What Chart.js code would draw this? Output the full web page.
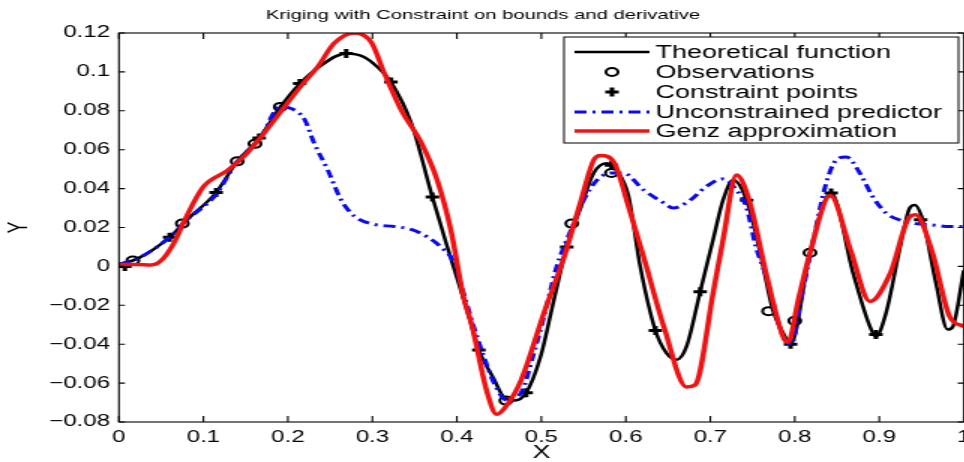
<!DOCTYPE html>
<html>
<head>
<meta charset="utf-8">
<script src="https://cdn.jsdelivr.net/npm/chart.js"></script>
<style>
  html, body { margin: 0; padding: 0; background: #fff; overflow: hidden; }
  /* the reference figure is stretched sideways, so the chart is drawn narrow and widened */
  #wrap { width: 650px; height: 462px; transform: scaleX(1.5); transform-origin: 0 0; }
</style>
</head>
<body>
<div id="wrap"><canvas id="kriging"></canvas></div>
<script>
// Theoretical function
const theoX = [0, 0.022, 0.06, 0.078, 0.115, 0.14, 0.166, 0.191, 0.214, 0.235, 0.269, 0.29, 0.306, 0.322, 0.346, 0.371, 0.388, 0.408, 0.417, 0.426, 0.444, 0.456, 0.468, 0.482, 0.499, 0.515, 0.53, 0.547, 0.562, 0.577, 0.589, 0.603, 0.617, 0.635, 0.648, 0.66, 0.672, 0.688, 0.704, 0.715, 0.727, 0.743, 0.759, 0.774, 0.786, 0.795, 0.818, 0.843, 0.869, 0.889, 0.896, 0.908, 0.924, 0.936, 0.942, 0.952, 0.967, 0.981, 0.987, 1.0];
const theoY = [0.001, 0.004, 0.015, 0.023, 0.038, 0.054, 0.066, 0.082, 0.094, 0.102, 0.1095, 0.1077, 0.1025, 0.0948, 0.0737, 0.0357, 0.011, -0.017, -0.03, -0.043, -0.058, -0.0675, -0.069, -0.065, -0.0465, -0.017, 0.01, 0.0307, 0.048, 0.053, 0.0495, 0.0365, 0.0, -0.033, -0.0445, -0.048, -0.041, -0.013, 0.015, 0.034, 0.0444, 0.034, 0.007, -0.0225, -0.034, -0.04, 0.007, 0.0377, -0.0035, -0.031, -0.0361, -0.024, 0.0085, 0.03, 0.0316, 0.023, -0.0085, -0.0325, -0.031, -0.002];

// Observations (circles)
const obsX = [0.0165, 0.075, 0.14, 0.161, 0.191, 0.458, 0.536, 0.583, 0.769, 0.8, 0.818];
const obsY = [0.003, 0.022, 0.054, 0.063, 0.082, -0.069, 0.022, 0.048, -0.023, -0.028, 0.007];

// Constraint points (plus signs)
const consX = [0.007, 0.06, 0.115, 0.166, 0.214, 0.269, 0.322, 0.371, 0.426, 0.482, 0.53, 0.583, 0.635, 0.688, 0.743, 0.795, 0.843, 0.896, 0.949];
const consY = [0.0, 0.015, 0.038, 0.066, 0.094, 0.1095, 0.0948, 0.0357, -0.043, -0.065, 0.01, 0.052, -0.033, -0.013, 0.034, -0.04, 0.0377, -0.035, 0.024];

// Unconstrained predictor
const uncX = [0, 0.022, 0.06, 0.078, 0.115, 0.14, 0.166, 0.191, 0.205, 0.22, 0.231, 0.247, 0.263, 0.279, 0.302, 0.326, 0.346, 0.365, 0.381, 0.397, 0.408, 0.42, 0.432, 0.444, 0.459, 0.476, 0.491, 0.503, 0.518, 0.535, 0.55, 0.566, 0.582, 0.597, 0.621, 0.645, 0.656, 0.676, 0.695, 0.715, 0.731, 0.743, 0.754, 0.766, 0.786, 0.796, 0.806, 0.822, 0.836, 0.849, 0.861, 0.877, 0.892, 0.908, 0.924, 0.943, 0.963, 0.983, 1.0];
const uncY = [0.001, 0.004, 0.015, 0.023, 0.037, 0.054, 0.065, 0.082, 0.081, 0.0753, 0.0634, 0.0497, 0.0342, 0.0257, 0.0216, 0.0205, 0.019, 0.0152, 0.01, 0.0017, -0.0138, -0.031, -0.0465, -0.06, -0.0687, -0.065, -0.0447, -0.026, -0.0003, 0.0187, 0.034, 0.0444, 0.048, 0.048, 0.0393, 0.0326, 0.03, 0.034, 0.041, 0.045, 0.0393, 0.03, 0.01, -0.005, -0.036, -0.04, -0.02, 0.0136, 0.041, 0.0547, 0.0563, 0.048, 0.036, 0.0274, 0.0239, 0.022, 0.0213, 0.0205, 0.0205];

// Genz approximation
const genzX = [0, 0.02, 0.038, 0.05, 0.065, 0.078, 0.1, 0.129, 0.149, 0.168, 0.196, 0.216, 0.235, 0.255, 0.279, 0.299, 0.314, 0.334, 0.358, 0.377, 0.393, 0.408, 0.417, 0.436, 0.447, 0.458, 0.476, 0.503, 0.527, 0.547, 0.562, 0.57, 0.586, 0.603, 0.621, 0.645, 0.672, 0.682, 0.704, 0.715, 0.731, 0.747, 0.766, 0.786, 0.792, 0.804, 0.818, 0.842, 0.866, 0.889, 0.913, 0.936, 0.943, 0.963, 0.983, 1.0];
const genzY = [0.001, 0.001, 0.0007, 0.003, 0.012, 0.024, 0.041, 0.0495, 0.057, 0.0665, 0.082, 0.093, 0.1025, 0.1148, 0.12, 0.115, 0.0995, 0.0805, 0.0635, 0.044, 0.0185, -0.016, -0.029, -0.065, -0.076, -0.072, -0.0585, -0.024, 0.005, 0.034, 0.0547, 0.057, 0.0535, 0.031, 0.005, -0.031, -0.062, -0.061, -0.012, 0.0135, 0.047, 0.0326, -0.0035, -0.036, -0.039, -0.0175, 0.007, 0.0364, 0.0085, -0.018, -0.0035, 0.0255, 0.0265, 0.007, -0.0255, -0.031];

const seriesNames = ['Theoretical function', 'Observations', 'Constraint points', 'Unconstrained predictor', 'Genz approximation'];

const FONT = "'Liberation Sans', Arial, sans-serif";

function pts(xs, ys) {
    return xs.map((x, i) => ({ x: x, y: ys[i] }));
}

// box round the axes, with inward ticks on all four sides
const framePlugin = {
    id: 'frame',
    afterDatasetsDraw(chart) {
        const { ctx, chartArea: a, scales: { x, y } } = chart;
        ctx.save();
        ctx.strokeStyle = '#000';
        ctx.lineWidth = 1.1;
        ctx.strokeRect(a.left, a.top, a.right - a.left, a.bottom - a.top);
        ctx.beginPath();
        x.ticks.forEach(t => {
            const px = x.getPixelForValue(t.value);
            ctx.moveTo(px, a.bottom); ctx.lineTo(px, a.bottom - 6);
            ctx.moveTo(px, a.top); ctx.lineTo(px, a.top + 6);
        });
        y.ticks.forEach(t => {
            const py = y.getPixelForValue(t.value);
            ctx.moveTo(a.left, py); ctx.lineTo(a.left + 4, py);
            ctx.moveTo(a.right, py); ctx.lineTo(a.right - 4, py);
        });
        ctx.stroke();
        ctx.restore();
    }
};

// MATLAB style legend box in the upper right
const legendPlugin = {
    id: 'matlabLegend',
    afterDraw(chart) {
        const ctx = chart.ctx;
        const box = { left: 376, top: 37, right: 639, bottom: 143 };
        const rowY = [52, 72, 92, 112, 131];
        const x0 = 383, x1 = 433, xm = 408;
        ctx.save();
        ctx.fillStyle = '#fff';
        ctx.fillRect(box.left, box.top, box.right - box.left, box.bottom - box.top);
        ctx.strokeStyle = '#000';
        ctx.lineWidth = 1;
        ctx.strokeRect(box.left, box.top, box.right - box.left, box.bottom - box.top);
        chart.data.datasets.forEach((ds, i) => {
            const yy = rowY[i];
            ctx.save();
            ctx.strokeStyle = ds.borderColor;
            ctx.lineWidth = ds.borderWidth;
            if (ds.showLine) {
                ctx.setLineDash(ds.borderDash || []);
                ctx.beginPath();
                ctx.moveTo(x0, yy); ctx.lineTo(x1, yy);
                ctx.stroke();
            } else if (ds.pointStyle === 'circle') {
                ctx.beginPath();
                ctx.arc(xm, yy, ds.pointRadius, 0, Math.PI * 2);
                ctx.stroke();
            } else {
                const r = ds.pointRadius;
                ctx.beginPath();
                ctx.moveTo(xm - r, yy); ctx.lineTo(xm + r, yy);
                ctx.moveTo(xm, yy - r); ctx.lineTo(xm, yy + r);
                ctx.stroke();
            }
            ctx.restore();
            ctx.fillStyle = '#000';
            ctx.font = '18px ' + FONT;
            ctx.textBaseline = 'middle';
            ctx.fillText(ds.label, 437, yy + 1);
        });
        ctx.restore();
    }
};

new Chart(document.getElementById('kriging'), {
    type: 'scatter',
    data: {
        datasets: [
            {
                label: seriesNames[0],
                data: pts(theoX, theoY),
                showLine: true,
                borderColor: '#000000',
                borderWidth: 2.5,
                pointRadius: 0,
                cubicInterpolationMode: 'monotone',
                order: 4
            },
            {
                label: seriesNames[1],
                data: pts(obsX, obsY),
                showLine: false,
                pointStyle: 'circle',
                pointRadius: 4,
                borderColor: '#000000',
                borderWidth: 2,
                backgroundColor: 'rgba(0,0,0,0)',
                order: 3
            },
            {
                label: seriesNames[2],
                data: pts(consX, consY),
                showLine: false,
                pointStyle: 'cross',
                pointRadius: 4.5,
                borderColor: '#000000',
                borderWidth: 3,
                order: 2
            },
            {
                label: seriesNames[3],
                data: pts(uncX, uncY),
                showLine: true,
                borderColor: '#0a0af0',
                borderWidth: 3,
                borderDash: [8, 4, 2, 4],
                pointRadius: 0,
                cubicInterpolationMode: 'monotone',
                order: 1
            },
            {
                label: seriesNames[4],
                data: pts(genzX, genzY),
                showLine: true,
                borderColor: '#ee1414',
                borderWidth: 3.5,
                pointRadius: 0,
                cubicInterpolationMode: 'monotone',
                order: 0
            }
        ]
    },
    options: {
        responsive: true,
        maintainAspectRatio: false,
        animation: false,
        layout: { padding: { left: 0, right: 6, top: 0, bottom: 0 } },
        plugins: {
            legend: { display: false },
            tooltip: { enabled: false },
            title: {
                display: true,
                text: 'Kriging with Constraint on bounds and derivative',
                color: '#000',
                font: { family: FONT, size: 13.5, weight: 'normal', lineHeight: 1.2 },
                padding: { top: 7, bottom: 9.8 }
            }
        },
        scales: {
            x: {
                type: 'linear',
                min: 0,
                max: 1,
                grid: { display: false, drawTicks: false },
                border: { display: false },
                afterFit(scale) {
                    scale.height = 40;
                    scale.paddingLeft = 0;
                    scale.paddingRight = 0;
                },
                ticks: {
                    stepSize: 0.1,
                    padding: 6,
                    color: '#000',
                    font: { family: FONT, size: 16 },
                    maxRotation: 0,
                    callback: v => String(Number(v.toFixed(2)))
                },
                title: {
                    display: true,
                    text: 'X',
                    color: '#000',
                    font: { family: FONT, size: 18, lineHeight: 1 },
                    padding: { top: -2, bottom: 0 }
                }
            },
            y: {
                type: 'linear',
                min: -0.08,
                max: 0.12,
                grid: { display: false, drawTicks: false },
                border: { display: false },
                afterFit(scale) { scale.width = 79.3; },
                ticks: {
                    stepSize: 0.02,
                    padding: 6,
                    color: '#000',
                    font: { family: FONT, size: 16 },
                    callback: v => String(Number(v.toFixed(2))).replace('-', '\u2212')
                },
                title: {
                    display: true,
                    text: 'Y',
                    color: '#000',
                    font: { family: FONT, size: 18, lineHeight: 1 },
                    padding: { top: 4.5, bottom: 0 }
                }
            }
        }
    },
    plugins: [framePlugin, legendPlugin]
});
</script>
</body>
</html>
